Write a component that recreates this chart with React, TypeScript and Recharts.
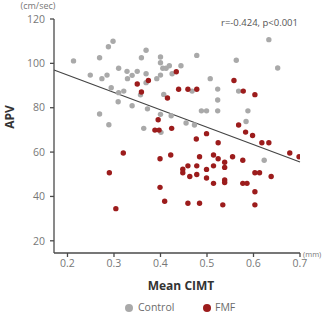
import React from 'react';
import { ScatterChart, Scatter, XAxis, YAxis, ReferenceLine, Legend, Label } from 'recharts';

// Mean CIMT (mm) vs APV (cm/sec)
const CONTROL_X = [
  0.213, 0.298, 0.288, 0.269, 0.369, 0.249, 0.274, 0.285, 0.31, 0.328, 0.339, 0.35, 0.329, 0.359,
  0.369, 0.369, 0.294, 0.31, 0.321, 0.309, 0.339, 0.357, 0.4, 0.4, 0.4, 0.392, 0.405, 0.412,
  0.419, 0.425, 0.444, 0.478, 0.407, 0.468, 0.507, 0.523, 0.523, 0.563, 0.568, 0.633, 0.652, 0.372,
  0.269, 0.289, 0.364, 0.4, 0.401, 0.423, 0.455, 0.473, 0.488, 0.499, 0.523, 0.588, 0.584, 0.623,
];
const CONTROL_Y = [
  101.1, 110, 107.5, 102.5, 105.9, 94.7, 93.1, 94.7, 97.8, 96.4, 94.6, 96.4, 93.1, 102.5,
  95.3, 91.3, 89, 86.8, 87.5, 82.7, 80.9, 85.8, 102.9, 100.3, 94.7, 93.1, 97.8, 97.8,
  98.9, 95.3, 98.9, 103.6, 86, 87.5, 93.1, 88.4, 83.5, 101.4, 87.5, 110.7, 97.9, 79.5,
  77.2, 72.3, 70.7, 77, 68.9, 76.4, 73.1, 72.2, 78.6, 78.6, 78.6, 78.6, 73.8, 56.3,
];

const FMF_X = [
  0.35, 0.359, 0.374, 0.434, 0.415, 0.439, 0.459, 0.478, 0.558, 0.578, 0.603, 0.395, 0.388, 0.397,
  0.424, 0.32, 0.29, 0.304, 0.399, 0.422, 0.399, 0.409, 0.477, 0.499, 0.524, 0.568, 0.583, 0.598,
  0.618, 0.633, 0.678, 0.698, 0.448, 0.448, 0.459, 0.463, 0.478, 0.484, 0.478, 0.499, 0.499, 0.514,
  0.514, 0.514, 0.524, 0.538, 0.538, 0.538, 0.538, 0.555, 0.577, 0.577, 0.586, 0.603, 0.613, 0.638,
  0.603, 0.534, 0.603, 0.459, 0.484,
];
const FMF_Y = [
  90.7, 87.1, 92.3, 96.2, 84.4, 88.3, 88.3, 88.3, 92.3, 87.5, 85.9, 74.6, 69.9, 69.9,
  70.7, 59.6, 50.7, 34.5, 57, 58.7, 44.1, 37.8, 65.9, 68.3, 64.2, 72.2, 69, 67.5,
  64.2, 64.2, 59.6, 57.9, 52.3, 50.7, 53.8, 49, 53.8, 57.9, 49.9, 52.2, 48.3, 45.9,
  53.8, 58.7, 57, 55.4, 53.1, 47.4, 46.3, 57.9, 56.3, 45.9, 45.9, 50.7, 50.7, 49,
  42.1, 36.2, 36.2, 36.9, 36.9,
];

const X_TICKS = [0.2, 0.3, 0.4, 0.5, 0.6, 0.7];
const Y_TICKS = [20, 40, 60, 80, 100, 120];

// fitted line end points
const FIT_X = [0.171, 0.7];
const FIT_Y = [97, 55.5];

const GREY = '#a9a9a9';
const RED = '#9c1c1c';
const AXIS = '#4a4a4a';
const FONT = '"Open Sans", "Noto Sans", sans-serif';

const controlData = CONTROL_X.map((x, i) => ({ x, y: CONTROL_Y[i] }));
const fmfData = FMF_X.map((x, i) => ({ x, y: FMF_Y[i] }));

const dot = (color: string) => (props: any) => (
  <circle cx={props.cx} cy={props.cy} r={2.7} fill={color} />
);

const swatch = (color: string, left: number): React.CSSProperties => ({
  position: 'absolute', left, top: 4, width: 8, height: 8, borderRadius: 4, background: color,
});

const LegendContent = () => (
  <div style={{ position: 'relative', width: 322, height: 14, fontFamily: FONT, fontSize: 10.5, color: '#6b6b6b', lineHeight: '13px' }}>
    <span style={swatch(GREY, 125)} />
    <span style={{ position: 'absolute', left: 138, top: 1 }}>Control</span>
    <span style={swatch(RED, 203)} />
    <span style={{ position: 'absolute', left: 215, top: 1 }}>FMF</span>
  </div>
);

export default function App() {
  const tick = { fill: '#777', fontSize: 10.5, fontFamily: FONT };
  return (
    <div>
      <style>{'body{margin:0}'}</style>
      <ScatterChart width={322} height={314} margin={{ top: 19, right: 22, bottom: 0, left: 0 }}>
        <XAxis
          type="number"
          dataKey="x"
          domain={[0.171, 0.7]}
          ticks={X_TICKS}
          tickFormatter={(v) => v.toFixed(1)}
          allowDataOverflow
          height={47}
          tickSize={4}
          tickMargin={3}
          tick={tick}
          stroke={AXIS}
          strokeWidth={1.3}
        >
          <Label
            content={({ viewBox }: any) => (
              <g>
                <text x={viewBox.x + viewBox.width / 2 + 4} y={viewBox.y + 37} textAnchor="middle" fontFamily={FONT} fontSize={12} fontWeight={700} fill="#333">
                  Mean CIMT
                </text>
                <text x={viewBox.x + viewBox.width + 3} y={viewBox.y + 4} fontFamily={FONT} fontSize={7.5} fill="#777">
                  (mm)
                </text>
              </g>
            )}
          />
        </XAxis>
        <YAxis
          type="number"
          dataKey="y"
          domain={[14.5, 120]}
          ticks={Y_TICKS}
          allowDataOverflow
          width={54}
          tickSize={4}
          tickMargin={5}
          tick={tick}
          stroke={AXIS}
          strokeWidth={1.3}
        >
          <Label
            content={({ viewBox }: any) => (
              <g>
                <text x={viewBox.x + 38} y={viewBox.y - 10} textAnchor="middle" fontFamily={FONT} fontSize={9} fill="#777">
                  (cm/sec)
                </text>
                <text
                  x={14}
                  y={117}
                  transform="rotate(-90, 14, 117)"
                  textAnchor="middle"
                  fontFamily={FONT}
                  fontSize={12}
                  fontWeight={700}
                  fill="#333"
                >
                  APV
                </text>
              </g>
            )}
          />
        </YAxis>
        <Scatter name="Control" data={controlData} fill={GREY} shape={dot(GREY)} isAnimationActive={false} />
        <Scatter name="FMF" data={fmfData} fill={RED} shape={dot(RED)} isAnimationActive={false} />
        <ReferenceLine
          segment={[{ x: FIT_X[0], y: FIT_Y[0] }, { x: FIT_X[1], y: FIT_Y[1] }]}
          stroke="#444"
          strokeWidth={1.2}
        />
        <text x={298} y={26} textAnchor="end" fontFamily={FONT} fontSize={9.5} fill="#555">
          r=-0.424, p&lt;0.001
        </text>
        <Legend verticalAlign="bottom" content={<LegendContent />} wrapperStyle={{ left: 0, width: 322, bottom: 0 }} />
      </ScatterChart>
    </div>
  );
}
